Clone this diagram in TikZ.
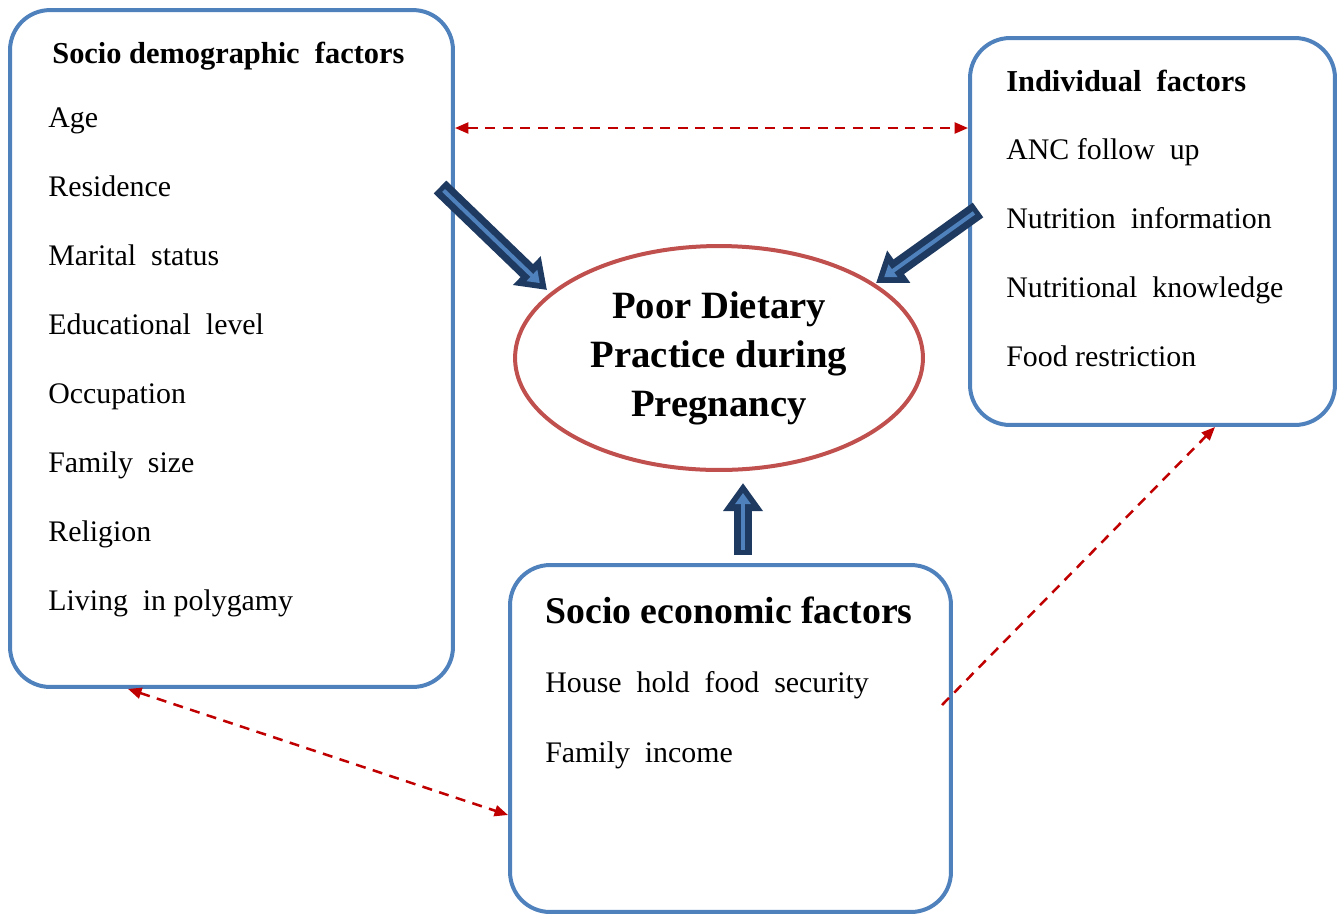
\documentclass[tikz,border=0pt]{standalone}
\usepackage{fontspec}
\setmainfont{Liberation Serif}
\usetikzlibrary{shapes.geometric,arrows.meta}

\definecolor{boxblue}{HTML}{4F81BD}
\definecolor{ellred}{HTML}{C0504D}
\definecolor{dashred}{HTML}{C00000}
\definecolor{navy}{HTML}{1F3A60}

\tikzset{
  factorbox/.style={draw=boxblue, line width=0.08cm, rounded corners=0.8cm, inner sep=0pt},
  dasharrow/.style={draw=dashred, line width=0.05cm, dash pattern=on 0.2cm off 0.15cm},
  redtip/.tip={Triangle[length=0.27cm,width=0.22cm]},
  bigarrow/.style={draw=navy, line width=0.36cm, -{Triangle[length=0.56cm,width=0.76cm]},
    postaction={draw=boxblue, line width=0.08cm, shorten >=0.2cm, shorten <=0.1cm,
      -{Triangle[length=0.22cm,width=0.3cm]}}}
}

\begin{document}
\begin{tikzpicture}[x=0.02cm,y=-0.02cm]
\useasboundingbox (0,0) rectangle (1338,914);

        % factor boxes
        \begin{scope}[every node/.style={factorbox}]
          \node[minimum width=8.86cm, minimum height=13.54cm] (sd)  at (231.5,348.5) {};
          \node[minimum width=7.3cm,  minimum height=7.74cm]  (ind) at (1152.5,231.5) {};
          \node[minimum width=8.82cm, minimum height=6.94cm]  (se)  at (730.5,738.5) {};
        \end{scope}

        \node[ellipse, draw=ellred, line width=0.08cm, minimum width=8.16cm, minimum height=4.48cm,
          inner sep=0pt, align=center, font=\fontsize{22}{27.9}\selectfont\bfseries]
          (poor) at (719,358) {\raisebox{-0.1cm}{Poor Dietary}\\\raisebox{-0.1cm}{Practice during}\\\raisebox{-0.1cm}{Pregnancy}};

        % box texts
        \begin{scope}[every node/.style={anchor=base west, inner sep=0pt, font=\fontsize{17}{20}\selectfont}]
          \node[font=\fontsize{17.3}{20}\selectfont\bfseries] (sdhead) at (52,63) {Socio demographic\ \ factors};
          \foreach \txt [count=\i] in {Age, Residence, Marital\ \ status, Educational\ \ level,
              Occupation, Family\ \ size, Religion, Living\ \ in polygamy}
            \node (sd\i) at (48,58+69.1*\i) {\txt};

          \node[font=\fontsize{17.3}{20}\selectfont\bfseries] (indhead) at (1006,91) {Individual\ \ factors};
          \foreach \txt [count=\i] in {ANC follow\ \ up, Nutrition\ \ information,
              Nutritional\ \ knowledge, Food restriction}
            \node (ind\i) at (1006,90+69*\i) {\txt};

          \node[font=\fontsize{21.5}{25}\selectfont\bfseries] (sehead) at (545,623) {Socio economic factors};
          \node (se1) at (545,692) {House\ \ hold\ \ food\ \ security};
          \node (se2) at (545,762) {Family\ \ income};
        \end{scope}

        % dashed links
        \coordinate (seout) at (942,705);
        \draw[dasharrow, redtip-redtip] (sd.east |- 0,128) -- (ind.west |- 0,128);
        \draw[dasharrow, redtip-redtip] (sd.south -| 128,0) -- (se.west |- 0,815);
        \draw[dasharrow, -redtip] (seout) -- (ind.south -| 1215,0);

        % arrows into the outcome
        \coordinate (sdtail)  at (440,187);
        \coordinate (sdtip)   at (547,290);
        \coordinate (indtail) at (978,210);
        \coordinate (indtip)  at (876,283);
        \coordinate (setail)  at (743,555);
        \coordinate (setip)   at (743,483);
        \draw[bigarrow] (sdtail) -- (sdtip);
        \draw[bigarrow] (indtail) -- (indtip);
        \draw[bigarrow] (setail) -- (setip);

      \end{tikzpicture}
\end{document}
